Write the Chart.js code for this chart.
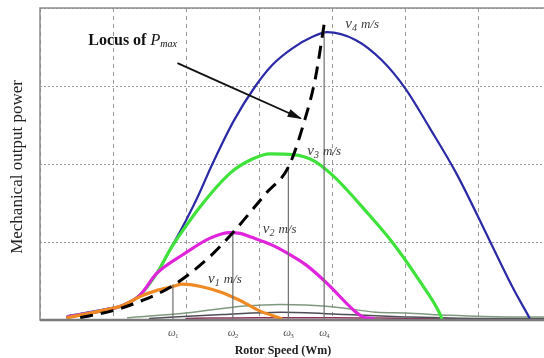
<!DOCTYPE html>
<html>
<head>
<meta charset="utf-8">
<script src="https://cdn.jsdelivr.net/npm/chart.js@4.4.0/dist/chart.umd.min.js"></script>
<style>
  html, body { margin: 0; padding: 0; background: #fff; overflow: hidden; }
  #powerChart { display: block; }
</style>
</head>
<body>
<canvas id="powerChart" width="544" height="358"></canvas>
<script>
// rotor speed (x) / mechanical power (y) pairs
const v1Curve = [[0.38,0.03],[0.9,0.13],[1.14,0.19],[1.37,0.3],[1.6,0.38],[1.82,0.43],[1.95,0.46],[2.2,0.43],[2.47,0.36],[2.74,0.25],[3.0,0.12],[3.3,0.02]];
const v2Curve = [[0.38,0.04],[0.9,0.13],[1.14,0.19],[1.37,0.32],[1.6,0.6],[1.96,0.84],[2.33,1.05],[2.6,1.12],[2.74,1.11],[2.9,1.06],[3.18,0.96],[3.38,0.86],[3.65,0.7],[3.93,0.47],[4.29,0.13],[4.42,0.04],[4.56,0.02]];
const v3Curve = [[0.38,0.04],[0.9,0.13],[1.14,0.19],[1.37,0.32],[1.6,0.6],[1.78,0.9],[1.92,1.1],[2.19,1.45],[2.6,1.88],[2.9,2.06],[3.15,2.13],[3.47,2.12],[3.75,2.04],[4.0,1.86],[4.2,1.67],[4.41,1.45],[4.82,1.0],[5.19,0.51],[5.47,0.09],[5.5,0.02]];
const v4Curve = [[0.38,0.05],[0.9,0.14],[1.14,0.19],[1.37,0.32],[1.6,0.6],[1.78,0.9],[2.0,1.28],[2.15,1.56],[2.36,2.0],[2.65,2.55],[2.95,3.0],[3.18,3.27],[3.45,3.48],[3.73,3.63],[3.93,3.69],[4.32,3.59],[4.68,3.33],[5.0,2.97],[5.33,2.47],[5.7,1.88],[6.15,1.03],[6.47,0.42],[6.7,0.03]];
const lowCurves = [
    [[1.2,0.03],[2.0,0.09],[2.8,0.18],[3.3,0.2],[4.0,0.17],[4.6,0.1],[5.0,0.09],[5.6,0.06],[6.4,0.04],[6.9,0.04]],
    [[1.5,0.02],[2.5,0.07],[3.3,0.1],[4.2,0.07],[5.0,0.04],[6.0,0.02],[6.9,0.02]],
    [[2.0,0.02],[3.0,0.03],[4.0,0.03],[5.0,0.02],[6.0,0.01]]
];
const locusCurve = [[0.55,0.03],[1.0,0.12],[1.4,0.25],[1.8,0.43],[2.3,0.79],[2.64,1.12],[3.1,1.63],[3.4,1.96],[3.62,2.55],[3.77,3.1],[3.9,3.85]];
const arrowLine = [[1.89,3.29],[3.56,2.59]];

// optimum speeds and the power at each of them
const omegaSpeeds = [1.82, 2.64, 3.40, 3.89];
const omegaPeaks = [0.45, 1.12, 1.96, 3.70];
const omegaLabels = ['1', '2', '3', '4'];

// curve labels: subscript, position (data units)
const speedLabels = [
    { sub: '1', x: 2.3, y: 0.54 },
    { sub: '2', x: 3.05, y: 1.18 },
    { sub: '3', x: 3.66, y: 2.18 },
    { sub: '4', x: 4.18, y: 3.81 }
];

const toPoints = arr => arr.map(p => ({ x: p[0], y: p[1] }));

function curve(arr, color, width, extra) {
    return Object.assign({
        data: toPoints(arr),
        borderColor: color,
        borderWidth: width,
        pointRadius: 0,
        fill: false,
        cubicInterpolationMode: 'monotone',
        borderJoinStyle: 'round',
        borderCapStyle: 'round'
    }, extra || {});
}

const datasets = [];
datasets.push(curve(locusCurve, '#000000', 3, { borderDash: [13, 8], borderCapStyle: 'butt', order: 0 }));
datasets.push(curve(arrowLine, '#111111', 1.8, { order: 0 }));
omegaSpeeds.forEach((w, i) => {
    datasets.push(curve([[w, 0], [w, omegaPeaks[i]]], '#6e6e6e', 1.2, { cubicInterpolationMode: 'default', tension: 0, order: 1 }));
});
datasets.push(curve(v1Curve, '#f08a24', 3.2, { order: 2 }));
datasets.push(curve(v2Curve, '#e024dc', 3.2, { order: 3 }));
datasets.push(curve(v3Curve, '#3ee23a', 3.2, { order: 4 }));
datasets.push(curve(v4Curve, '#2a2aa6', 2.2, { order: 5 }));
const lowColors = ['#7f997f', '#4d4d55', '#8a2f58'];
lowCurves.forEach((c, i) => {
    datasets.push(curve(c, lowColors[i], 1.5, { order: 6 }));
});

// frame, arrow head and all the annotation text
const annotations = {
    id: 'annotations',
    afterDatasetsDraw(chart) {
        const { ctx, chartArea, scales: { x, y } } = chart;
        ctx.save();

        // plot frame
        ctx.strokeStyle = '#8c8c8c';
        ctx.lineWidth = 1.5;
        ctx.strokeRect(chartArea.left, chartArea.top, chartArea.right - chartArea.left + 2, chartArea.bottom - chartArea.top);
        ctx.strokeStyle = '#7a7a7a';
        ctx.lineWidth = 2.5;
        ctx.beginPath();
        ctx.moveTo(chartArea.left, chartArea.bottom);
        ctx.lineTo(chartArea.right, chartArea.bottom);
        ctx.stroke();

        // arrow head
        const x1 = x.getPixelForValue(arrowLine[0][0]), y1 = y.getPixelForValue(arrowLine[0][1]);
        const x2 = x.getPixelForValue(arrowLine[1][0]), y2 = y.getPixelForValue(arrowLine[1][1]);
        const ang = Math.atan2(y2 - y1, x2 - x1);
        ctx.fillStyle = '#111';
        ctx.beginPath();
        ctx.moveTo(x2 + 2, y2 + 1);
        ctx.lineTo(x2 - 13 * Math.cos(ang - 0.32), y2 - 13 * Math.sin(ang - 0.32));
        ctx.lineTo(x2 - 13 * Math.cos(ang + 0.32), y2 - 13 * Math.sin(ang + 0.32));
        ctx.closePath();
        ctx.fill();

        ctx.textBaseline = 'alphabetic';
        ctx.textAlign = 'left';

        // "Locus of Pmax"
        let lx = x.getPixelForValue(0.66), ly = y.getPixelForValue(3.59) + 5;
        ctx.fillStyle = '#111';
        ctx.font = 'bold 16px "Liberation Serif"';
        ctx.fillText('Locus of ', lx, ly);
        lx += ctx.measureText('Locus of ').width;
        ctx.font = 'italic 16px "Liberation Serif"';
        ctx.fillText('P', lx, ly);
        lx += ctx.measureText('P').width;
        ctx.font = 'italic 10px "Liberation Serif"';
        ctx.fillText('max', lx, ly + 2);

        // v_n m/s labels
        ctx.fillStyle = '#3a3a3a';
        speedLabels.forEach(l => {
            let px = x.getPixelForValue(l.x), py = y.getPixelForValue(l.y) + 5;
            ctx.font = 'italic 15px "Liberation Serif"';
            ctx.fillText('v', px, py);
            px += ctx.measureText('v').width;
            ctx.font = 'italic 10px "Liberation Serif"';
            ctx.fillText(l.sub, px, py + 3);
            px += ctx.measureText(l.sub).width + 4;
            ctx.font = 'italic 13px "Liberation Serif"';
            ctx.fillText('m/s', px, py);
        });

        // omega labels under the axis
        ctx.fillStyle = '#555';
        omegaSpeeds.forEach((w, i) => {
            const px = x.getPixelForValue(w) - 5;
            const py = chartArea.bottom + 16;
            ctx.font = 'italic 11px "Liberation Serif"';
            ctx.fillText('\u03c9', px, py);
            ctx.font = '7px "Liberation Serif"';
            ctx.fillText(omegaLabels[i], px + 7, py + 2);
        });

        // axis titles
        ctx.fillStyle = '#222';
        ctx.textAlign = 'center';
        ctx.font = 'bold 12px "Liberation Serif"';
        ctx.fillText('Rotor Speed (Wm)', 283, chartArea.bottom + 34);

        ctx.translate(22, (chartArea.top + chartArea.bottom) / 2 + 3);
        ctx.rotate(-Math.PI / 2);
        ctx.font = '17px "Liberation Serif"';
        ctx.fillText('Mechanical output power', 0, 0);
        ctx.restore();
    }
};

const chart = new Chart(document.getElementById('powerChart'), {
    type: 'line',
    data: { datasets: datasets },
    options: {
        responsive: false,
        animation: false,
        layout: { padding: { left: 40, top: 8, right: 0, bottom: 38 } },
        plugins: {
            legend: { display: false },
            tooltip: { enabled: false }
        },
        scales: {
            x: {
                type: 'linear',
                min: 0,
                max: 6.9,
                ticks: { display: false, stepSize: 1 },
                grid: { color: '#9a9a9a', lineWidth: 1, drawTicks: false },
                border: { display: false, dash: [4, 4] }
            },
            y: {
                min: 0,
                max: 4,
                ticks: { display: false, stepSize: 1 },
                grid: { color: '#9a9a9a', lineWidth: 1, drawTicks: false },
                border: { display: false, dash: [2, 2] }
            }
        }
    },
    plugins: [annotations]
});
</script>
</body>
</html>
